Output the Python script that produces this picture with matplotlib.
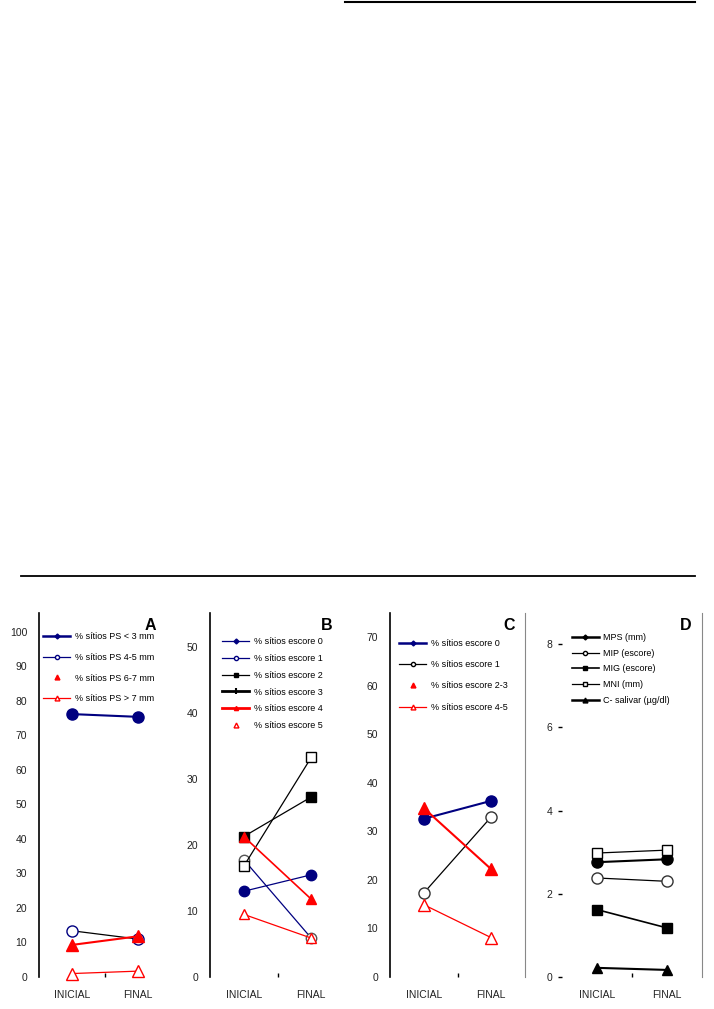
import matplotlib
matplotlib.use("Agg")
from matplotlib import pyplot as plt
from matplotlib.lines import Line2D

plt.rcParams['font.family'] = ['Liberation Sans', 'DejaVu Sans']

NAVY = '#000080'
RED = '#ff0000'
BLACK = '#000000'

periods = ['INICIAL', 'FINAL']

# Panel A - profundidade de sondagem (% sitios)
a_labels = ['% sítios PS < 3 mm', '% sítios PS 4-5 mm', '% sítios PS 6-7 mm', '% sítios PS > 7 mm']
a_ps3 = [76.2, 75.4]
a_ps45 = [13.4, 11.0]
a_ps67 = [9.3, 11.8]
a_ps7 = [1.0, 1.7]

# Panel B - escore de placa (% sitios)
b_labels = ['% sítios escore 0', '% sítios escore 1', '% sítios escore 2',
            '% sítios escore 3', '% sítios escore 4', '% sítios escore 5']
b_e0 = [13.0, 15.5]
b_e1 = [17.8, 5.9]
b_e2 = [21.3, 27.3]
b_e3 = [16.8, 33.3]
b_e4 = [21.3, 11.8]
b_e5 = [9.5, 5.9]

# Panel C - escore gengival (% sitios)
c_labels = ['% sítios escore 0', '% sítios escore 1', '% sítios escore 2-3', '% sítios escore 4-5']
c_e0 = [32.6, 36.3]
c_e1 = [17.3, 33.0]
c_e23 = [34.8, 22.2]
c_e45 = [14.9, 8.1]

# Panel D - medias
d_labels = ['MPS (mm)', 'MIP (escore)', 'MIG (escore)', 'MNI (mm)', 'C- salivar (µg/dl)']
d_mps = [2.76, 2.83]
d_mip = [2.38, 2.30]
d_mig = [1.62, 1.18]
d_mni = [2.98, 3.05]
d_csal = [0.22, 0.17]

x = [1, 2]

fig = plt.figure(figsize=(7.14, 10.09), dpi=100)

BOTTOM = 1 - 977 / 1009
HEIGHT = (977 - 613) / 1009


def make_axes(left_px, right_px, ymax, yticks, letter, letter_x):
    ax = fig.add_axes([left_px / 714, BOTTOM, (right_px - left_px) / 714, HEIGHT])
    ax.set_xlim(0.5, 2.5)
    ax.set_ylim(0, ymax)
    for s in ['top', 'bottom', 'right']:
        ax.spines[s].set_visible(False)
    ax.spines['left'].set_linewidth(1.2)
    ax.set_yticks(yticks)
    ax.tick_params(axis='y', length=0, pad=8.5, labelsize=7.5, labelcolor='#222222')
    ax.set_xticks(x, periods)
    ax.tick_params(axis='x', which='major', length=0, pad=9, labelsize=7.5, labelcolor='#222222')
    ax.set_xticks([1.5], minor=True)
    ax.tick_params(axis='x', which='minor', direction='in', length=3, width=1)
    ax.text(letter_x, 0.967, letter, transform=ax.transAxes, fontsize=11.5,
            fontweight='bold', ha='center', va='center')
    return ax


def add_legend(ax, handles, labels, ax_x, ax_y, spacing, hlen=3.0):
    ax.legend(handles, labels, loc='upper left', bbox_to_anchor=(ax_x, ax_y),
              frameon=False, fontsize=6.5, borderpad=0, borderaxespad=0,
              handlelength=hlen, handletextpad=0.5, labelspacing=spacing)


def series(ax, vals, color, lw, marker, ms, face, edge=None):
    ax.plot(x, vals, color=color, lw=lw, marker=marker, ms=ms,
            mfc=face, mec=edge or color, mew=1, clip_on=False)


# ---- A ----
axA = make_axes(39, 171, 105.5, range(0, 101, 10), 'A', 0.84)
series(axA, a_ps3, NAVY, 1.5, 'o', 8, NAVY)
series(axA, a_ps45, BLACK, 0.9, 'o', 8, 'white', NAVY)
series(axA, a_ps67, RED, 1.5, '^', 8, RED)
series(axA, a_ps7, RED, 0.9, '^', 8, 'white')
hA = [Line2D([], [], color=NAVY, lw=1.8, marker='D', ms=2.5, mfc=NAVY),
      Line2D([], [], color=NAVY, lw=0.9, marker='o', ms=3, mfc='white'),
      Line2D([], [], color=RED, lw=0, marker='^', ms=3.5, mfc=RED),
      Line2D([], [], color=RED, lw=0.9, marker='^', ms=3.5, mfc='white')]
add_legend(axA, hA, a_labels, 0.03, 0.948, 1.31)

# ---- B ----
axB = make_axes(210, 345, 55.2, range(0, 51, 10), 'B', 0.867)
series(axB, b_e0, NAVY, 0.9, 'o', 7.5, NAVY)
series(axB, b_e1, NAVY, 0.9, 'o', 7.5, 'white', '#555555')
series(axB, b_e2, BLACK, 0.9, 's', 7, BLACK)
series(axB, b_e3, BLACK, 0.9, 's', 7, 'white')
series(axB, b_e4, RED, 1.2, '^', 7.5, RED)
series(axB, b_e5, RED, 0.9, '^', 7.5, 'white')
hB = [Line2D([], [], color=NAVY, lw=0.9, marker='D', ms=2.5, mfc=NAVY),
      Line2D([], [], color=NAVY, lw=0.9, marker='o', ms=3, mfc='white'),
      Line2D([], [], color=BLACK, lw=0.9, marker='s', ms=3.5, mfc=BLACK),
      Line2D([], [], color=BLACK, lw=2, marker='|', ms=5, mew=1.5),
      Line2D([], [], color=RED, lw=2, marker='^', ms=3, mfc=RED),
      Line2D([], [], color=RED, lw=0, marker='^', ms=3.5, mfc='white')]
add_legend(axB, hB, b_labels, 0.089, 0.934, 0.87)

# ---- C ----
axC = make_axes(390, 525, 75, range(0, 71, 10), 'C', 0.88)
axC.spines['right'].set_visible(True)
axC.spines['right'].set_color('#888888')
series(axC, c_e0, NAVY, 1.5, 'o', 8, NAVY)
series(axC, c_e1, BLACK, 0.9, 'o', 8, 'white', '#333333')
series(axC, c_e23, RED, 1.5, '^', 8, RED)
series(axC, c_e45, RED, 0.9, '^', 8, 'white')
hC = [Line2D([], [], color=NAVY, lw=1.8, marker='D', ms=2.5, mfc=NAVY),
      Line2D([], [], color=BLACK, lw=0.9, marker='o', ms=3, mfc='white'),
      Line2D([], [], color=RED, lw=0, marker='^', ms=3.5, mfc=RED),
      Line2D([], [], color=RED, lw=0.9, marker='^', ms=3.5, mfc='white')]
add_legend(axC, hC, c_labels, 0.067, 0.929, 1.36)

# ---- D ----
axD = make_axes(562, 702, 8.75, range(0, 9, 2), 'D', 0.88)
axD.spines['left'].set_visible(False)
axD.spines['right'].set_visible(True)
axD.spines['right'].set_color('#888888')
axD.tick_params(axis='y', length=3, width=1, pad=4)
series(axD, d_mps, BLACK, 1.5, 'o', 8, BLACK)
series(axD, d_mip, BLACK, 0.9, 'o', 8, 'white', '#333333')
series(axD, d_mig, BLACK, 1.2, 's', 7, BLACK)
series(axD, d_mni, BLACK, 0.9, 's', 7, 'white')
series(axD, d_csal, BLACK, 1.5, '^', 7, BLACK)
hD = [Line2D([], [], color=BLACK, lw=1.8, marker='D', ms=2.5, mfc=BLACK),
      Line2D([], [], color=BLACK, lw=0.9, marker='o', ms=3, mfc='white'),
      Line2D([], [], color=BLACK, lw=1.2, marker='s', ms=3.5, mfc=BLACK),
      Line2D([], [], color=BLACK, lw=0.9, marker='s', ms=3.5, mfc='white'),
      Line2D([], [], color=BLACK, lw=1.8, marker='^', ms=3.5, mfc=BLACK)]
add_legend(axD, hD, d_labels, 0.07, 0.945, 0.74)

# separator between C and D and the horizontal rules of the page
fig.add_artist(Line2D([345 / 714, 695 / 714], [1 - 1.5 / 1009] * 2, color='black', lw=1.5))
fig.add_artist(Line2D([21 / 714, 695 / 714], [1 - 576 / 1009] * 2, color='black', lw=1.3))

fig.savefig('out.png', dpi=100)
